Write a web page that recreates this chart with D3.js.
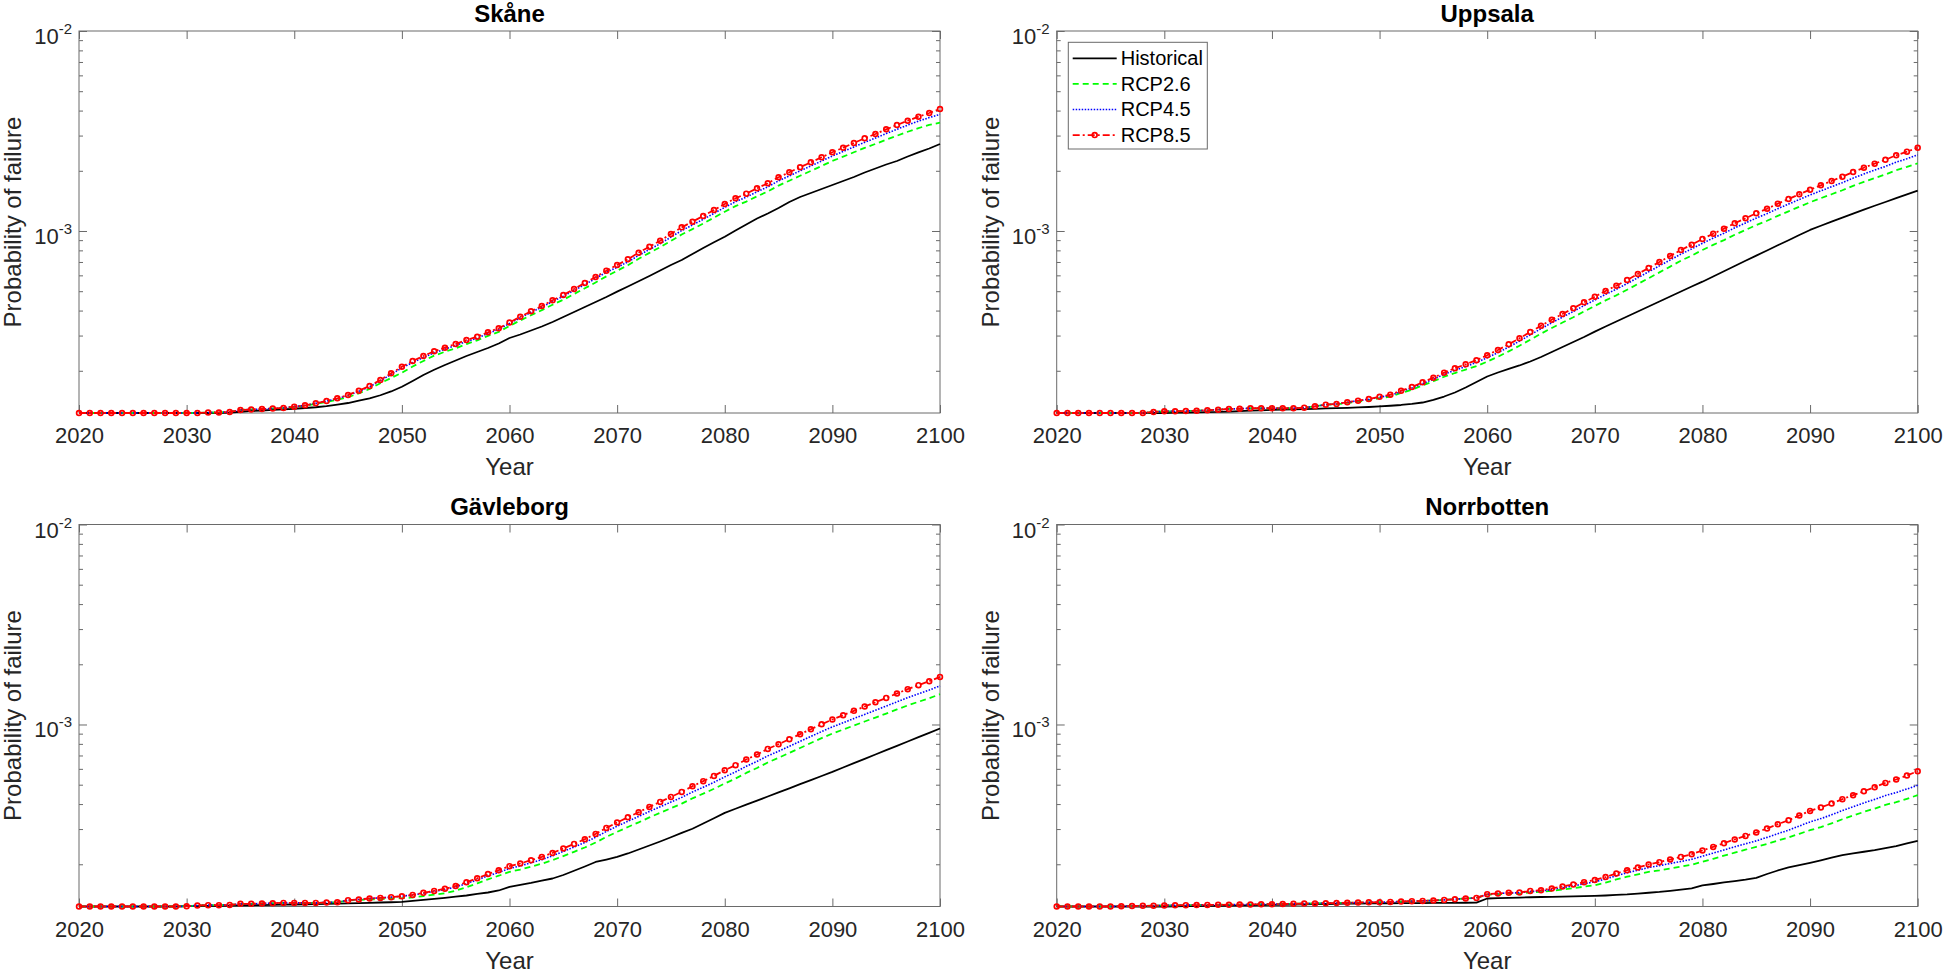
<!DOCTYPE html>
<html><head><meta charset="utf-8">
<script src="https://cdn.jsdelivr.net/npm/d3@7"></script>
<style>
html,body{margin:0;padding:0;background:#fff;}
svg{display:block;font-family:"Liberation Sans",Arial,Helvetica,sans-serif;}
</style></head><body>
<svg id="chart" width="1944" height="972"></svg>
<script>
// ---------------- DATA ----------------
const years = d3.range(2020, 2101);
const xTickValues = [2020, 2030, 2040, 2050, 2060, 2070, 2080, 2090, 2100];
const yMajorTicks = [1e-3, 1e-2];
const yMinorTicks = [2e-4, 3e-4, 4e-4, 5e-4, 6e-4, 7e-4, 8e-4, 9e-4, 2e-3, 3e-3, 4e-3, 5e-3, 6e-3, 7e-3, 8e-3, 9e-3];
const yDomain = [1.23e-4, 1e-2];
const regionNames = ["Skåne", "Uppsala", "Gävleborg", "Norrbotten"];
const seriesNames = ["Historical", "RCP2.6", "RCP4.5", "RCP8.5"];

const skaneHistorical = [1.230e-4,1.230e-4,1.230e-4,1.230e-4,1.230e-4,1.230e-4,1.230e-4,1.230e-4,1.230e-4,1.230e-4,1.230e-4,1.230e-4,1.230e-4,1.230e-4,
1.237e-4,1.248e-4,1.259e-4,1.266e-4,1.274e-4,1.283e-4,1.292e-4,1.303e-4,1.314e-4,1.331e-4,1.354e-4,1.380e-4,1.418e-4,1.457e-4,1.509e-4,1.576e-4,
1.665e-4,1.778e-4,1.905e-4,2.023e-4,2.138e-4,2.252e-4,2.371e-4,2.483e-4,2.600e-4,2.738e-4,2.917e-4,3.037e-4,3.180e-4,3.330e-4,3.508e-4,3.715e-4,
3.936e-4,4.169e-4,4.416e-4,4.677e-4,4.972e-4,5.278e-4,5.604e-4,5.957e-4,6.350e-4,6.761e-4,7.161e-4,7.674e-4,8.222e-4,8.780e-4,9.366e-4,
1.006e-3,1.078e-3,1.155e-3,1.223e-3,1.303e-3,1.396e-3,1.479e-3,1.549e-3,1.622e-3,1.698e-3,1.778e-3,1.862e-3,1.961e-3,2.054e-3,2.150e-3,2.239e-3,
2.358e-3,2.470e-3,2.585e-3,2.723e-3];
const skaneRcp26 = [1.230e-4,1.230e-4,1.230e-4,1.230e-4,1.230e-4,1.230e-4,1.230e-4,1.230e-4,1.230e-4,1.230e-4,1.230e-4,1.230e-4,
1.237e-4,1.237e-4,1.245e-4,1.274e-4,1.281e-4,1.288e-4,1.296e-4,1.303e-4,1.318e-4,1.340e-4,1.366e-4,1.398e-4,1.433e-4,1.475e-4,1.543e-4,1.622e-4,
1.733e-4,1.840e-4,1.956e-4,2.100e-4,2.240e-4,2.380e-4,2.490e-4,2.590e-4,2.720e-4,2.840e-4,2.990e-4,3.130e-4,3.350e-4,3.570e-4,3.790e-4,4.020e-4,
4.280e-4,4.530e-4,4.840e-4,5.170e-4,5.530e-4,5.930e-4,6.330e-4,6.740e-4,7.260e-4,7.770e-4,8.300e-4,8.930e-4,9.600e-4,1.022e-3,1.090e-3,1.166e-3,
1.249e-3,1.332e-3,1.403e-3,1.490e-3,1.577e-3,1.687e-3,1.784e-3,1.888e-3,1.998e-3,2.114e-3,2.240e-3,2.352e-3,2.475e-3,2.603e-3,2.725e-3,2.860e-3,
2.995e-3,3.135e-3,3.270e-3,3.390e-3,3.480e-3];
const skaneRcp45 = [1.230e-4,1.230e-4,1.230e-4,1.230e-4,1.230e-4,1.230e-4,1.230e-4,1.230e-4,1.230e-4,1.230e-4,1.230e-4,1.230e-4,
1.237e-4,1.237e-4,1.245e-4,1.274e-4,1.281e-4,1.288e-4,1.296e-4,1.303e-4,1.323e-4,1.344e-4,1.375e-4,1.410e-4,1.452e-4,1.505e-4,1.578e-4,1.664e-4,
1.780e-4,1.920e-4,2.065e-4,2.200e-4,2.330e-4,2.460e-4,2.565e-4,2.675e-4,2.800e-4,2.910e-4,3.075e-4,3.225e-4,3.447e-4,3.680e-4,3.920e-4,4.160e-4,
4.440e-4,4.720e-4,5.050e-4,5.400e-4,5.790e-4,6.220e-4,6.580e-4,7.010e-4,7.550e-4,8.080e-4,8.640e-4,9.320e-4,1.005e-3,1.072e-3,1.144e-3,1.225e-3,
1.313e-3,1.401e-3,1.477e-3,1.570e-3,1.663e-3,1.782e-3,1.886e-3,1.997e-3,2.114e-3,2.238e-3,2.371e-3,2.497e-3,2.633e-3,2.776e-3,2.915e-3,3.070e-3,
3.225e-3,3.385e-3,3.540e-3,3.690e-3,3.830e-3];
const skaneRcp85 = [1.230e-4,1.230e-4,1.230e-4,1.230e-4,1.230e-4,1.230e-4,1.230e-4,1.230e-4,1.230e-4,1.230e-4,1.230e-4,1.230e-4,
1.237e-4,1.237e-4,1.245e-4,1.274e-4,1.281e-4,1.288e-4,1.296e-4,1.303e-4,1.323e-4,1.344e-4,1.375e-4,1.413e-4,1.457e-4,1.514e-4,1.590e-4,1.679e-4,
1.799e-4,1.943e-4,2.096e-4,2.239e-4,2.371e-4,2.504e-4,2.609e-4,2.723e-4,2.851e-4,2.961e-4,3.115e-4,3.263e-4,3.487e-4,3.728e-4,3.967e-4,4.217e-4,
4.503e-4,4.786e-4,5.129e-4,5.495e-4,5.888e-4,6.333e-4,6.761e-4,7.219e-4,7.789e-4,8.347e-4,8.944e-4,9.661e-4,1.043e-3,1.113e-3,1.189e-3,1.274e-3,
1.365e-3,1.457e-3,1.537e-3,1.635e-3,1.732e-3,1.856e-3,1.966e-3,2.082e-3,2.205e-3,2.336e-3,2.475e-3,2.609e-3,2.754e-3,2.907e-3,3.055e-3,3.224e-3,
3.388e-3,3.560e-3,3.728e-3,3.890e-3,4.074e-3];

const uppsalaHistorical = [1.230e-4,1.230e-4,1.230e-4,1.230e-4,1.230e-4,1.230e-4,1.230e-4,1.230e-4,1.230e-4,1.230e-4,1.230e-4,
1.234e-4,1.237e-4,1.240e-4,1.243e-4,1.245e-4,1.251e-4,1.257e-4,1.263e-4,1.268e-4,1.274e-4,1.278e-4,1.282e-4,1.287e-4,1.291e-4,1.296e-4,1.301e-4,
1.306e-4,1.311e-4,1.318e-4,1.326e-4,1.337e-4,1.349e-4,1.365e-4,1.388e-4,1.429e-4,1.487e-4,1.558e-4,1.650e-4,1.758e-4,1.873e-4,1.961e-4,2.042e-4,
2.126e-4,2.226e-4,2.344e-4,2.483e-4,2.630e-4,2.786e-4,2.951e-4,3.137e-4,3.330e-4,3.527e-4,3.737e-4,3.958e-4,4.193e-4,4.441e-4,4.704e-4,4.983e-4,
5.278e-4,5.578e-4,5.922e-4,6.288e-4,6.683e-4,7.096e-4,7.534e-4,7.990e-4,8.482e-4,8.994e-4,9.550e-4,1.012e-3,1.062e-3,1.113e-3,1.167e-3,1.222e-3,
1.278e-3,1.337e-3,1.396e-3,1.459e-3,1.524e-3,1.590e-3];
const uppsalaRcp26 = [1.230e-4,1.230e-4,1.230e-4,1.230e-4,1.230e-4,1.230e-4,1.230e-4,1.230e-4,1.230e-4,1.245e-4,
1.254e-4,1.254e-4,1.259e-4,1.263e-4,1.269e-4,1.278e-4,1.288e-4,1.292e-4,1.299e-4,1.299e-4,1.299e-4,1.299e-4,1.299e-4,1.308e-4,1.329e-4,1.354e-4,
1.360e-4,1.381e-4,1.404e-4,1.425e-4,1.459e-4,1.486e-4,1.549e-4,1.609e-4,1.690e-4,1.773e-4,1.867e-4,1.949e-4,2.028e-4,2.109e-4,2.221e-4,2.350e-4,
2.502e-4,2.669e-4,2.860e-4,3.065e-4,3.274e-4,3.484e-4,3.704e-4,3.960e-4,4.220e-4,4.496e-4,4.768e-4,5.080e-4,5.431e-4,5.806e-4,6.207e-4,6.637e-4,
7.103e-4,7.533e-4,8.035e-4,8.521e-4,9.007e-4,9.575e-4,1.012e-3,1.070e-3,1.125e-3,1.191e-3,1.254e-3,1.322e-3,1.392e-3,1.459e-3,1.527e-3,1.599e-3,
1.682e-3,1.761e-3,1.839e-3,1.918e-3,2.013e-3,2.092e-3,2.181e-3];
const uppsalaRcp45 = [1.230e-4,1.230e-4,1.230e-4,1.230e-4,1.230e-4,1.230e-4,1.230e-4,1.230e-4,1.230e-4,1.245e-4,
1.254e-4,1.254e-4,1.259e-4,1.263e-4,1.269e-4,1.278e-4,1.288e-4,1.292e-4,1.299e-4,1.299e-4,1.299e-4,1.299e-4,1.299e-4,1.308e-4,1.329e-4,1.354e-4,
1.365e-4,1.391e-4,1.418e-4,1.439e-4,1.476e-4,1.507e-4,1.574e-4,1.640e-4,1.725e-4,1.815e-4,1.920e-4,2.013e-4,2.103e-4,2.199e-4,2.325e-4,2.465e-4,
2.630e-4,2.814e-4,3.023e-4,3.247e-4,3.478e-4,3.711e-4,3.958e-4,4.239e-4,4.519e-4,4.820e-4,5.117e-4,5.458e-4,5.841e-4,6.251e-4,6.691e-4,7.161e-4,
7.665e-4,8.138e-4,8.680e-4,9.215e-4,9.751e-4,1.037e-3,1.097e-3,1.160e-3,1.221e-3,1.293e-3,1.363e-3,1.437e-3,1.514e-3,1.588e-3,1.665e-3,1.745e-3,
1.838e-3,1.927e-3,2.014e-3,2.103e-3,2.209e-3,2.297e-3,2.399e-3];
const uppsalaRcp85 = [1.230e-4,1.230e-4,1.230e-4,1.230e-4,1.230e-4,1.230e-4,1.230e-4,1.230e-4,1.230e-4,1.245e-4,
1.254e-4,1.254e-4,1.259e-4,1.263e-4,1.269e-4,1.278e-4,1.288e-4,1.292e-4,1.299e-4,1.299e-4,1.299e-4,1.299e-4,1.299e-4,1.308e-4,1.329e-4,1.354e-4,
1.365e-4,1.391e-4,1.418e-4,1.445e-4,1.484e-4,1.519e-4,1.590e-4,1.660e-4,1.751e-4,1.847e-4,1.957e-4,2.058e-4,2.155e-4,2.258e-4,2.393e-4,2.541e-4,
2.714e-4,2.907e-4,3.126e-4,3.361e-4,3.602e-4,3.846e-4,4.106e-4,4.400e-4,4.694e-4,5.012e-4,5.327e-4,5.689e-4,6.095e-4,6.531e-4,6.998e-4,7.499e-4,
8.035e-4,8.541e-4,9.120e-4,9.694e-4,1.027e-3,1.093e-3,1.158e-3,1.226e-3,1.292e-3,1.370e-3,1.445e-3,1.526e-3,1.609e-3,1.692e-3,1.778e-3,1.868e-3,
1.972e-3,2.072e-3,2.171e-3,2.272e-3,2.391e-3,2.493e-3,2.609e-3];

const gavleborgHistorical = [1.230e-4,1.230e-4,1.230e-4,1.230e-4,1.230e-4,1.230e-4,1.230e-4,1.230e-4,1.230e-4,1.230e-4,
1.234e-4,1.236e-4,1.238e-4,1.240e-4,1.243e-4,1.245e-4,1.248e-4,1.251e-4,1.254e-4,1.256e-4,1.259e-4,1.262e-4,1.265e-4,1.268e-4,1.271e-4,1.274e-4,
1.278e-4,1.283e-4,1.288e-4,1.292e-4,1.296e-4,1.311e-4,1.326e-4,1.342e-4,1.358e-4,1.377e-4,1.396e-4,1.421e-4,1.445e-4,1.479e-4,1.540e-4,1.576e-4,
1.613e-4,1.656e-4,1.698e-4,1.768e-4,1.856e-4,1.950e-4,2.054e-4,2.113e-4,2.177e-4,2.265e-4,2.371e-4,2.483e-4,2.600e-4,2.729e-4,2.869e-4,3.010e-4,
3.199e-4,3.398e-4,3.615e-4,3.789e-4,3.972e-4,4.164e-4,4.365e-4,4.576e-4,4.797e-4,5.029e-4,5.272e-4,5.527e-4,5.794e-4,6.095e-4,6.405e-4,6.730e-4,
7.079e-4,7.438e-4,7.816e-4,8.222e-4,8.641e-4,9.078e-4,9.550e-4];
const gavleborgRcp26 = [1.230e-4,1.230e-4,1.230e-4,1.230e-4,1.230e-4,1.230e-4,1.230e-4,1.230e-4,1.230e-4,1.230e-4,
1.234e-4,1.245e-4,1.249e-4,1.249e-4,1.253e-4,1.268e-4,1.268e-4,1.274e-4,1.278e-4,1.282e-4,1.282e-4,1.282e-4,1.282e-4,1.288e-4,1.292e-4,1.318e-4,
1.325e-4,1.335e-4,1.339e-4,1.347e-4,1.353e-4,1.365e-4,1.387e-4,1.409e-4,1.433e-4,1.476e-4,1.537e-4,1.605e-4,1.682e-4,1.753e-4,1.833e-4,1.882e-4,
1.946e-4,2.013e-4,2.098e-4,2.199e-4,2.309e-4,2.427e-4,2.569e-4,2.740e-4,2.904e-4,3.071e-4,3.240e-4,3.430e-4,3.616e-4,3.813e-4,4.021e-4,4.275e-4,
4.508e-4,4.770e-4,5.070e-4,5.368e-4,5.725e-4,6.060e-4,6.458e-4,6.813e-4,7.211e-4,7.632e-4,8.077e-4,8.545e-4,9.013e-4,9.437e-4,9.883e-4,1.035e-3,
1.083e-3,1.134e-3,1.189e-3,1.245e-3,1.299e-3,1.354e-3,1.417e-3];
const gavleborgRcp45 = [1.230e-4,1.230e-4,1.230e-4,1.230e-4,1.230e-4,1.230e-4,1.230e-4,1.230e-4,1.230e-4,1.230e-4,
1.234e-4,1.245e-4,1.249e-4,1.249e-4,1.253e-4,1.268e-4,1.268e-4,1.274e-4,1.278e-4,1.282e-4,1.282e-4,1.282e-4,1.282e-4,1.288e-4,1.292e-4,1.323e-4,
1.334e-4,1.349e-4,1.358e-4,1.370e-4,1.385e-4,1.403e-4,1.432e-4,1.462e-4,1.495e-4,1.540e-4,1.602e-4,1.671e-4,1.749e-4,1.823e-4,1.906e-4,1.962e-4,
2.035e-4,2.110e-4,2.205e-4,2.318e-4,2.440e-4,2.571e-4,2.729e-4,2.918e-4,3.101e-4,3.282e-4,3.467e-4,3.673e-4,3.877e-4,4.093e-4,4.320e-4,4.598e-4,
4.854e-4,5.141e-4,5.471e-4,5.791e-4,6.177e-4,6.538e-4,6.968e-4,7.350e-4,7.779e-4,8.234e-4,8.714e-4,9.219e-4,9.726e-4,1.020e-3,1.071e-3,1.123e-3,
1.178e-3,1.236e-3,1.298e-3,1.362e-3,1.423e-3,1.487e-3,1.560e-3];
const gavleborgRcp85 = [1.230e-4,1.230e-4,1.230e-4,1.230e-4,1.230e-4,1.230e-4,1.230e-4,1.230e-4,1.230e-4,1.230e-4,
1.234e-4,1.245e-4,1.249e-4,1.249e-4,1.253e-4,1.268e-4,1.268e-4,1.274e-4,1.278e-4,1.282e-4,1.282e-4,1.282e-4,1.282e-4,1.288e-4,1.292e-4,1.323e-4,
1.334e-4,1.349e-4,1.358e-4,1.370e-4,1.385e-4,1.406e-4,1.439e-4,1.472e-4,1.509e-4,1.558e-4,1.626e-4,1.702e-4,1.788e-4,1.868e-4,1.957e-4,2.018e-4,
2.096e-4,2.177e-4,2.279e-4,2.399e-4,2.529e-4,2.670e-4,2.838e-4,3.040e-4,3.236e-4,3.437e-4,3.643e-4,3.873e-4,4.102e-4,4.345e-4,4.603e-4,4.915e-4,
5.207e-4,5.534e-4,5.909e-4,6.261e-4,6.683e-4,7.079e-4,7.551e-4,7.971e-4,8.444e-4,8.944e-4,9.473e-4,1.003e-3,1.059e-3,1.113e-3,1.170e-3,1.230e-3,
1.292e-3,1.358e-3,1.429e-3,1.502e-3,1.573e-3,1.646e-3,1.730e-3];

const norrbottenHistorical = [1.230e-4,1.230e-4,1.230e-4,1.230e-4,1.230e-4,1.230e-4,1.230e-4,1.230e-4,1.230e-4,1.230e-4,1.230e-4,
1.232e-4,1.234e-4,1.237e-4,1.239e-4,1.240e-4,1.242e-4,1.245e-4,1.247e-4,1.249e-4,1.252e-4,1.254e-4,1.257e-4,1.260e-4,1.263e-4,1.266e-4,1.268e-4,
1.271e-4,1.272e-4,1.274e-4,1.277e-4,1.277e-4,1.278e-4,1.279e-4,1.280e-4,1.281e-4,1.282e-4,1.283e-4,1.284e-4,1.286e-4,1.349e-4,1.354e-4,1.358e-4,
1.363e-4,1.368e-4,1.372e-4,1.375e-4,1.379e-4,1.382e-4,1.385e-4,1.390e-4,1.396e-4,1.405e-4,1.413e-4,1.426e-4,1.441e-4,1.455e-4,1.474e-4,1.492e-4,
1.514e-4,1.567e-4,1.594e-4,1.622e-4,1.646e-4,1.675e-4,1.710e-4,1.788e-4,1.862e-4,1.928e-4,1.979e-4,2.033e-4,2.094e-4,2.158e-4,2.221e-4,2.265e-4,
2.310e-4,2.353e-4,2.407e-4,2.462e-4,2.541e-4,2.618e-4];
const norrbottenRcp26 = [1.230e-4,1.230e-4,1.230e-4,1.230e-4,1.230e-4,1.230e-4,
1.233e-4,1.236e-4,1.239e-4,1.242e-4,1.246e-4,1.247e-4,1.249e-4,1.250e-4,1.253e-4,1.254e-4,1.256e-4,1.257e-4,1.259e-4,1.262e-4,1.263e-4,1.266e-4,
1.269e-4,1.272e-4,1.275e-4,1.278e-4,1.281e-4,1.284e-4,1.287e-4,1.290e-4,1.292e-4,1.297e-4,1.303e-4,1.308e-4,1.312e-4,1.318e-4,1.327e-4,1.338e-4,
1.349e-4,1.358e-4,1.410e-4,1.416e-4,1.421e-4,1.423e-4,1.447e-4,1.455e-4,1.473e-4,1.495e-4,1.517e-4,1.546e-4,1.572e-4,1.619e-4,1.679e-4,1.733e-4,
1.781e-4,1.832e-4,1.864e-4,1.905e-4,1.947e-4,1.990e-4,2.058e-4,2.130e-4,2.208e-4,2.286e-4,2.366e-4,2.443e-4,2.529e-4,2.627e-4,2.723e-4,2.841e-4,
2.961e-4,3.069e-4,3.206e-4,3.358e-4,3.504e-4,3.656e-4,3.797e-4,3.963e-4,4.088e-4,4.251e-4,4.432e-4];
const norrbottenRcp45 = [1.230e-4,1.230e-4,1.230e-4,1.230e-4,1.230e-4,1.230e-4,
1.233e-4,1.236e-4,1.239e-4,1.242e-4,1.246e-4,1.247e-4,1.249e-4,1.250e-4,1.253e-4,1.254e-4,1.256e-4,1.257e-4,1.259e-4,1.262e-4,1.263e-4,1.266e-4,
1.269e-4,1.272e-4,1.275e-4,1.278e-4,1.281e-4,1.284e-4,1.287e-4,1.290e-4,1.292e-4,1.297e-4,1.303e-4,1.308e-4,1.312e-4,1.318e-4,1.327e-4,1.338e-4,
1.349e-4,1.358e-4,1.418e-4,1.429e-4,1.439e-4,1.440e-4,1.462e-4,1.469e-4,1.495e-4,1.526e-4,1.558e-4,1.597e-4,1.635e-4,1.688e-4,1.752e-4,1.815e-4,
1.867e-4,1.927e-4,1.968e-4,2.018e-4,2.065e-4,2.118e-4,2.195e-4,2.275e-4,2.358e-4,2.447e-4,2.532e-4,2.618e-4,2.726e-4,2.844e-4,2.962e-4,3.108e-4,
3.258e-4,3.384e-4,3.536e-4,3.712e-4,3.877e-4,4.055e-4,4.222e-4,4.416e-4,4.566e-4,4.759e-4,4.972e-4];
const norrbottenRcp85 = [1.230e-4,1.230e-4,1.230e-4,1.230e-4,1.230e-4,1.230e-4,
1.233e-4,1.236e-4,1.239e-4,1.242e-4,1.246e-4,1.247e-4,1.249e-4,1.250e-4,1.253e-4,1.254e-4,1.256e-4,1.257e-4,1.259e-4,1.262e-4,1.263e-4,1.266e-4,
1.269e-4,1.272e-4,1.275e-4,1.278e-4,1.281e-4,1.284e-4,1.287e-4,1.290e-4,1.292e-4,1.297e-4,1.303e-4,1.308e-4,1.312e-4,1.318e-4,1.327e-4,1.338e-4,
1.349e-4,1.358e-4,1.418e-4,1.429e-4,1.439e-4,1.445e-4,1.472e-4,1.484e-4,1.514e-4,1.549e-4,1.585e-4,1.628e-4,1.669e-4,1.727e-4,1.799e-4,1.868e-4,
1.928e-4,1.995e-4,2.049e-4,2.113e-4,2.177e-4,2.246e-4,2.344e-4,2.443e-4,2.550e-4,2.661e-4,2.773e-4,2.884e-4,3.020e-4,3.173e-4,3.323e-4,3.508e-4,
3.698e-4,3.846e-4,4.027e-4,4.233e-4,4.431e-4,4.640e-4,4.858e-4,5.105e-4,5.309e-4,5.559e-4,5.842e-4];

// ---------------- LAYOUT / STYLE ----------------
const panels = [
  { name: regionNames[0], left: 79,    top: 31,    series: [skaneHistorical, skaneRcp26, skaneRcp45, skaneRcp85] },
  { name: regionNames[1], left: 1056.7, top: 31,   series: [uppsalaHistorical, uppsalaRcp26, uppsalaRcp45, uppsalaRcp85], legend: true },
  { name: regionNames[2], left: 79,    top: 524.5, series: [gavleborgHistorical, gavleborgRcp26, gavleborgRcp45, gavleborgRcp85] },
  { name: regionNames[3], left: 1056.7, top: 524.5, series: [norrbottenHistorical, norrbottenRcp26, norrbottenRcp45, norrbottenRcp85] }
];
const W = 861, H = 382;
const styles = [
  { color: "#000000", width: 1.8, dash: null, marker: false },
  { color: "#00ff00", width: 1.8, dash: "6,4", marker: false },
  { color: "#0000ff", width: 1.6, dash: "1.5,1.5", marker: false },
  { color: "#ff0000", width: 1.8, dash: "7,3,2,3", marker: true }
];
const axisColor = "#262626";
const boxColor = "#6a6a6a";

const svg = d3.select("#chart");
svg.append("rect").attr("width", 1944).attr("height", 972).attr("fill", "#fff");

panels.forEach(p => {
  const g = svg.append("g").attr("transform", `translate(${p.left},${p.top})`);
  const x = d3.scaleLinear().domain([2020, 2100]).range([0, W]);
  const y = d3.scaleLog().domain(yDomain).range([H, 0]);

  const xb = g.append("g").attr("transform", `translate(0,${H})`)
    .call(d3.axisBottom(x).tickValues(xTickValues).tickFormat(d3.format("d")).tickSize(-8).tickPadding(14.5));
  xb.select(".domain").remove();
  xb.selectAll(".tick line").attr("stroke", boxColor);
  xb.selectAll("text").attr("font-size", 22).attr("fill", axisColor).attr("font-family", "Liberation Sans, Arial, sans-serif");
  const xt = g.append("g").call(d3.axisTop(x).tickValues(xTickValues).tickFormat("").tickSize(-8));
  xt.select(".domain").remove();
  xt.selectAll(".tick line").attr("stroke", boxColor);

  [[d3.axisLeft, 0], [d3.axisRight, W]].forEach(([ax, tx]) => {
    const gm = g.append("g").attr("transform", `translate(${tx},0)`)
      .call(ax(y).tickValues(yMajorTicks).tickFormat("").tickSize(-8));
    gm.select(".domain").remove();
    gm.selectAll(".tick line").attr("stroke", boxColor);
    const gn = g.append("g").attr("transform", `translate(${tx},0)`)
      .call(ax(y).tickValues(yMinorTicks).tickFormat("").tickSize(-4));
    gn.select(".domain").remove();
    gn.selectAll(".tick line").attr("stroke", boxColor);
  });

  g.selectAll(".ylab").data(yMajorTicks).join("text")
    .attr("class", "ylab")
    .attr("x", -7).attr("y", d => y(d) + 13)
    .attr("text-anchor", "end").attr("font-size", 22).attr("fill", axisColor)
    .each(function (d) {
      const t = d3.select(this);
      t.append("tspan").text("10");
      t.append("tspan").attr("dy", -10).attr("font-size", 15).text(String(Math.round(Math.log10(d))));
    });

  g.append("rect").attr("x", 0).attr("y", 0).attr("width", W).attr("height", H)
    .attr("fill", "none").attr("stroke", boxColor).attr("stroke-width", 1);

  const line = d3.line().x((d, i) => x(years[i])).y(d => y(d));
  p.series.forEach((vals, si) => {
    const st = styles[si];
    g.append("path").datum(vals).attr("d", line)
      .attr("fill", "none").attr("stroke", st.color).attr("stroke-width", st.width)
      .attr("stroke-dasharray", st.dash).attr("stroke-linejoin", "round");
    if (st.marker) {
      g.selectAll(".mk" + si).data(vals).join("circle")
        .attr("cx", (d, i) => x(years[i])).attr("cy", d => y(d)).attr("r", 2.4)
        .attr("fill", "none").attr("stroke", st.color).attr("stroke-width", 1.7);
    }
  });

  g.append("text").attr("x", W / 2).attr("y", -9.5).attr("text-anchor", "middle")
    .attr("font-size", 24).attr("font-weight", "bold").attr("fill", "#000").text(p.name);
  g.append("text").attr("x", W / 2).attr("y", H + 62).attr("text-anchor", "middle")
    .attr("font-size", 24).attr("fill", axisColor).text("Year");
  g.append("text").attr("transform", `translate(-58,${H / 2}) rotate(-90)`).attr("text-anchor", "middle")
    .attr("font-size", 24).attr("fill", axisColor).text("Probability of failure");

  if (p.legend) {
    const lg = g.append("g").attr("transform", "translate(11.6,11.3)");
    lg.append("rect").attr("width", 139).attr("height", 106.7).attr("fill", "#fff")
      .attr("stroke", boxColor).attr("stroke-width", 1);
    seriesNames.forEach((nm, i) => {
      const st = styles[i];
      const cy = 16 + i * 25.6;
      lg.append("line").attr("x1", 4.4).attr("x2", 48.4).attr("y1", cy).attr("y2", cy)
        .attr("stroke", st.color).attr("stroke-width", st.width).attr("stroke-dasharray", st.dash);
      if (st.marker) {
        lg.append("circle").attr("cx", 26.4).attr("cy", cy).attr("r", 2.4)
          .attr("fill", "none").attr("stroke", st.color).attr("stroke-width", 1.7);
      }
      lg.append("text").attr("x", 52.4).attr("y", cy + 7).attr("font-size", 20)
        .attr("fill", "#000").text(nm);
    });
  }
});
</script>
</body></html>
